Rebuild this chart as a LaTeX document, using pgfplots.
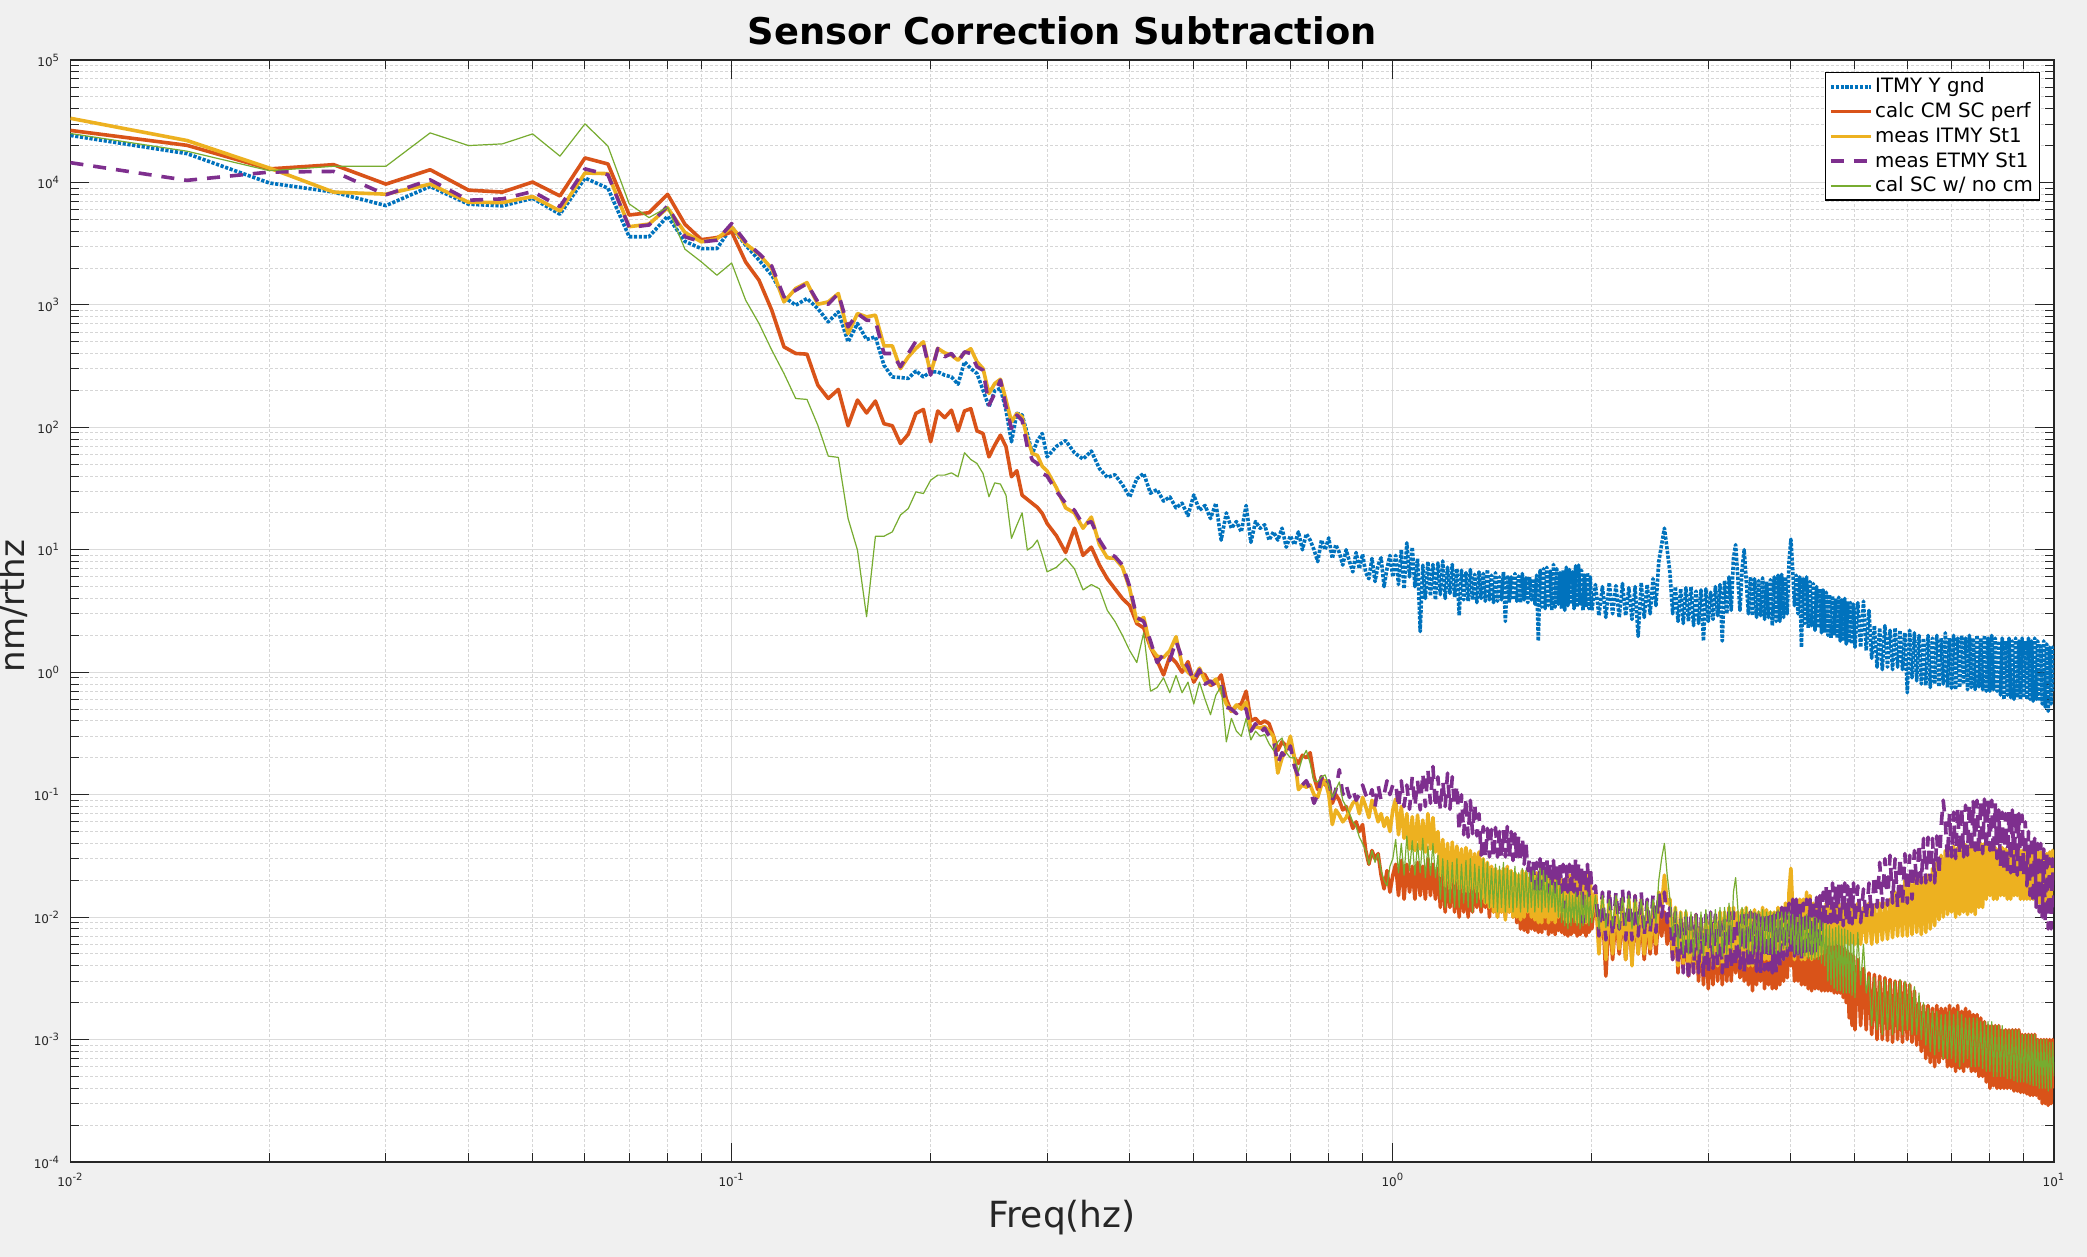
\documentclass[border=0pt]{standalone}
\usepackage{fontspec}
\setmainfont{DejaVu Sans}
\usepackage{pgfplots}
\usepackage{pgfplotstable}
\pgfplotsset{compat=1.18}
\definecolor{mblue}{HTML}{0072BD}
\definecolor{morange}{HTML}{D95319}
\definecolor{myellow}{HTML}{EDB120}
\definecolor{mpurple}{HTML}{7E2F8E}
\definecolor{mgreen}{HTML}{77AC30}
\definecolor{figbg}{HTML}{F0F0F0}
\definecolor{axcol}{HTML}{262626}
\newcommand{\lgf}{\fontsize{9.9}{11}\selectfont}

\pgfplotstableread{
f B O Y P G
0.010 24200 26600 33400 14500 25100
0.015 17200 20100 22000 10400 18000
0.020 9890 12900 13100 12160 12470
0.025 8340 13970 8340 12300 13550
0.030 6470 9690 8020 7930 13550
0.035 9270 12700 9690 10500 25400
0.040 6640 8650 6890 7160 20000
0.045 6430 8340 6850 7340 20650
0.050 7430 10070 7670 8430 24900
0.055 5500 7760 5850 6350 16400
0.060 10860 15850 11940 12900 30100
0.065 8970 14150 11800 11560 19800
0.070 3600 5420 4350 4290 6680
0.075 3600 5660 4570 4490 5160
0.080 5300 8000 6200 6400 6270
0.085 3300 4550 3900 3600 2850
0.090 2880 3410 3270 3270 2244
0.095 2880 3545 3475 3375 1747
0.100 4330 3950 4330 4610 2200
0.105 3070 2240 3160 3270 1092
0.110 2320 1590 2590 2625 705
0.115 1747 904 1980 2070 427
0.120 1162 454 1058 1162 275
0.125 994 401 1360 1318 172
0.130 1127 396 1520 1493 169
0.135 933 221 1012 1058 104
0.140 727 172 1058 1012 58.2
0.145 877 204 1238 1238 56.8
0.150 499 103 583 661 18.0
0.155 705 167 850 850 9.94
0.160 521 131 798 750 2.84
0.165 548 164 824 740 12.9
0.170 321 107 463 401 12.9
0.175 258 103 463 401 14.0
0.180 255 73.8 302 312 19.2
0.185 251 87.9 376 401 21.7
0.190 289 130 441 505 29.7
0.195 258 140 499 483 28.8
0.200 284 76.2 275 267 37.0
0.205 284 136 441 441 40.7
0.210 267 120 406 377 40.7
0.215 258 138 388 401 42.5
0.220 225 93.5 353 343 39.5
0.225 343 136 406 413 62.0
0.230 302 142 438 401 54.6
0.235 275 93.5 343 312 50.7
0.240 201 89.0 302 293 42.0
0.245 147 57.4 189 152 27.1
0.250 199 71.5 228 189 35.2
0.255 208 86.3 247 243 34.4
0.260 138 69.4 167 147 27.9
0.265 76.2 39.5 111 97.7 12.4
0.270 130 44.2 130 126 15.9
0.275 126 27.9 122 114 20.0
0.280 89.0 25.8 81.0 69.3 9.94
0.285 61.0 23.9 61.0 54.0 10.6
0.290 77.6 22.2 59.0 50.7 12.0
0.295 89.0 19.8 48.0 42.0 9.04
0.300 57.4 16.4 44.0 40.0 6.6
0.31 70 13 32 30 7.2
0.32 78 9.5 22 24 8.5
0.33 62 15 20 21 7
0.34 55 9 15 16 4.7
0.35 64 10.5 18.5 17 5.2
0.36 46 7.5 11 12 4.8
0.37 39 5.8 8.6 9.5 3.2
0.38 41 4.8 8.5 8.8 2.6
0.39 34 4.0 7.2 7.5 2.0
0.40 27 3.5 4.8 5 1.5
0.41 38 2.5 2.6 2.8 1.2
0.42 42 2.3 2.8 2.6 2.1
0.43 29 1.6 1.6 1.8 0.7
0.44 31 1.25 1.35 1.2 0.75
0.45 25 0.95 1.32 1.4 0.9
0.46 27 1.35 1.5 1.25 0.68
0.47 22 1.2 1.95 1.8 0.94
0.48 24 1.0 1.15 1.3 0.68
0.49 19 1.22 1.0 1.1 0.83
0.50 28 0.83 0.9 0.85 0.55
0.51 21 1.0 1.08 1.05 0.83
0.52 23 0.95 0.85 0.8 0.6
0.53 18 0.78 0.8 0.85 0.45
0.54 24 0.82 0.88 0.75 0.65
0.55 12 0.95 0.7 0.8 0.77
0.56 20 0.6 0.55 0.52 0.27
0.57 15 0.48 0.48 0.5 0.42
0.58 17 0.53 0.54 0.46 0.33
0.59 14 0.55 0.5 0.52 0.3
0.60 23 0.7 0.57 0.5 0.42
0.61 11.5 0.4 0.34 0.33 0.28
0.62 17 0.42 0.36 0.38 0.33
0.63 15 0.38 0.35 0.32 0.3
0.64 16 0.4 0.36 0.35 0.31
0.65 12 0.38 0.33 0.3 0.26
0.66 14 0.3 0.3 0.28 0.23
0.67 12 0.23 0.15 0.18 0.27
0.68 15 0.27 0.2 0.22 0.29
0.69 10.5 0.25 0.23 0.2 0.22
0.70 13 0.26 0.3 0.25 0.2
0.71 11 0.2 0.2 0.17 0.2
0.72 14 0.18 0.11 0.14 0.155
0.73 10 0.21 0.12 0.12 0.2
0.74 13.5 0.2 0.115 0.13 0.23
0.75 12 0.22 0.12 0.11 0.18
0.76 10 0.14 0.1 0.085 0.13
0.77 8 0.11 0.095 0.1 0.127
0.78 12 0.14 0.12 0.14 0.14
0.79 10 0.12 0.13 0.12 0.145
0.80 12.5 0.127 0.1 0.13 0.12
0.81 8.5 0.085 0.057 0.09 0.095
0.82 11 0.1 0.075 0.11 0.11
0.83 9.5 0.09 0.068 0.16 0.127
0.84 7.5 0.075 0.06 0.1 0.09
0.85 10 0.08 0.065 0.12 0.08
0.86 8 0.065 0.075 0.095 0.07
0.87 6.6 0.053 0.085 0.11 0.06
0.88 9.5 0.06 0.09 0.09 0.055
0.89 7 0.05 0.07 0.1 0.045
0.90 9.2 0.057 0.095 0.12 0.04
0.91 6.5 0.035 0.08 0.1 0.035
0.92 5.8 0.027 0.065 0.09 0.027
0.93 8.5 0.035 0.09 0.11 0.035
0.94 5.5 0.03 0.075 0.08 0.028
0.95 7.5 0.033 0.06 0.12 0.033
0.96 8.6 0.022 0.07 0.09 0.024
0.97 5 0.017 0.055 0.1 0.02
0.98 7 0.024 0.065 0.13 0.018
0.99 9 0.016 0.05 0.1 0.026
1.00 6 0.022 0.075 0.12 0.03
1.01 9.0 0.027 0.092 0.125 0.043
1.02 5.2 0.015 0.047 0.078 0.023
1.03 10 0.029 0.08 0.13 0.04
1.04 4.8 0.014 0.044 0.08 0.022
1.05 11.4 0.027 0.07 0.12 0.046
1.06 6.0 0.016 0.036 0.076 0.024
1.07 10.5 0.026 0.066 0.14 0.042
1.08 5.0 0.014 0.035 0.08 0.022
1.09 8.5 0.028 0.068 0.13 0.04
1.10 2.15 0.015 0.036 0.075 0.023
1.11 7.5 0.026 0.062 0.15 0.044
1.12 4.0 0.014 0.034 0.08 0.021
1.13 8.0 0.03 0.07 0.16 0.038
1.14 4.2 0.015 0.036 0.085 0.022
1.15 7.6 0.027 0.065 0.17 0.04
1.16 3.9 0.014 0.034 0.078 0.021
1.17 7.8 0.025 0.05 0.14 0.032
1.18 4.3 0.012 0.022 0.075 0.014
1.19 8.1 0.024 0.043 0.13 0.03
1.20 4.0 0.011 0.018 0.08 0.012
1.21 7.2 0.023 0.04 0.15 0.029
1.22 4.4 0.012 0.017 0.076 0.013
1.23 7.6 0.022 0.041 0.14 0.028
1.24 4.1 0.011 0.019 0.08 0.012
1.25 7.0 0.024 0.038 0.12 0.03
1.26 2.9 0.01 0.017 0.05 0.012
1.27 6.8 0.023 0.036 0.1 0.027
1.28 3.9 0.011 0.016 0.047 0.013
1.29 6.5 0.021 0.037 0.095 0.029
1.30 3.8 0.01 0.016 0.045 0.012
1.31 6.9 0.022 0.035 0.09 0.03
1.32 3.9 0.011 0.017 0.048 0.011
1.33 6.3 0.024 0.033 0.085 0.027
1.34 3.7 0.012 0.016 0.046 0.013
1.35 6.6 0.022 0.034 0.07 0.026
1.36 4.0 0.011 0.014 0.032 0.012
1.37 6.4 0.02 0.03 0.055 0.03
1.38 3.8 0.012 0.013 0.03 0.013
1.39 6.9 0.021 0.028 0.053 0.028
1.40 3.9 0.01 0.012 0.031 0.012
1.41 6.2 0.022 0.026 0.052 0.025
1.42 3.7 0.011 0.011 0.03 0.012
1.43 6.5 0.02 0.025 0.054 0.027
1.44 3.8 0.01 0.01 0.031 0.011
1.45 6.0 0.019 0.024 0.05 0.026
1.46 3.9 0.011 0.011 0.03 0.012
1.47 6.6 0.021 0.025 0.052 0.028
1.48 2.6 0.01 0.0095 0.031 0.011
1.49 6.2 0.023 0.026 0.055 0.025
1.50 3.7 0.011 0.011 0.03 0.012
1.51 6.0 0.02 0.024 0.05 0.024
1.52 3.9 0.01 0.01 0.029 0.011
1.53 6.4 0.019 0.023 0.048 0.026
1.54 3.8 0.009 0.01 0.03 0.012
1.55 6.1 0.018 0.022 0.046 0.023
1.56 3.7 0.008 0.0095 0.028 0.011
1.57 6.4 0.017 0.024 0.045 0.025
1.58 3.9 0.0078 0.01 0.027 0.012
1.59 5.9 0.017 0.023 0.04 0.024
1.60 3.7 0.0075 0.011 0.024 0.011
1.61 6.0 0.016 0.021 0.03 0.023
1.62 3.9 0.008 0.01 0.018 0.012
1.63 5.8 0.017 0.022 0.029 0.024
1.64 3.6 0.0078 0.0095 0.017 0.011
1.65 6.2 0.016 0.023 0.028 0.022
1.66 1.8 0.0075 0.009 0.016 0.012
1.67 6.8 0.017 0.024 0.03 0.025
1.68 3.4 0.0075 0.009 0.017 0.011
1.69 7.0 0.016 0.025 0.029 0.024
1.70 3.3 0.008 0.01 0.018 0.012
1.71 7.2 0.017 0.022 0.03 0.022
1.72 3.5 0.0072 0.009 0.016 0.011
1.73 6.7 0.018 0.024 0.028 0.02
1.74 3.2 0.0075 0.0095 0.017 0.012
1.75 7.6 0.016 0.023 0.029 0.019
1.76 3.4 0.0072 0.009 0.016 0.011
1.77 7.0 0.015 0.024 0.027 0.02
1.78 3.6 0.0078 0.01 0.017 0.01
1.79 6.5 0.016 0.022 0.028 0.018
1.80 3.3 0.0075 0.011 0.016 0.009
1.81 6.8 0.016 0.02 0.027 0.016
1.82 3.2 0.0072 0.0095 0.012 0.0085
1.83 7.2 0.017 0.021 0.026 0.015
1.84 3.5 0.007 0.009 0.016 0.008
1.85 6.9 0.016 0.022 0.027 0.016
1.86 3.6 0.0072 0.01 0.015 0.0085
1.87 6.6 0.017 0.023 0.026 0.015
1.88 3.3 0.0075 0.01 0.016 0.009
1.89 7.4 0.015 0.022 0.03 0.016
1.90 3.4 0.007 0.009 0.015 0.0085
1.91 7.5 0.016 0.02 0.028 0.015
1.92 3.5 0.0072 0.0095 0.016 0.008
1.93 6.8 0.017 0.021 0.025 0.016
1.94 3.2 0.0075 0.01 0.009 0.0085
1.95 6.2 0.016 0.022 0.026 0.015
1.96 3.4 0.007 0.009 0.016 0.009
1.97 6.5 0.017 0.023 0.027 0.016
1.98 3.3 0.0075 0.01 0.015 0.0085
1.99 6.0 0.016 0.021 0.026 0.015
2.000 3.2 0.008 0.01 0.016 0.009
2.025 5.2 0.016 0.016 0.018 0.015
2.050 2.9 0.007 0.005 0.007 0.008
2.075 5.0 0.012 0.014 0.016 0.015
2.100 2.8 0.0033 0.0045 0.0065 0.0082
2.125 5.4 0.011 0.015 0.017 0.014
2.150 3.0 0.0045 0.005 0.007 0.0085
2.175 5.1 0.0105 0.014 0.016 0.015
2.200 2.8 0.005 0.0055 0.008 0.008
2.225 5.3 0.011 0.013 0.017 0.0145
2.250 2.9 0.0045 0.0045 0.0065 0.0085
2.275 4.9 0.01 0.014 0.016 0.015
2.300 2.7 0.0045 0.004 0.0065 0.008
2.325 5.0 0.0105 0.015 0.015 0.014
2.350 1.96 0.005 0.005 0.007 0.0085
2.375 5.4 0.01 0.014 0.016 0.014
2.400 2.8 0.0045 0.005 0.007 0.008
2.425 5.2 0.0095 0.012 0.014 0.0135
2.450 3.0 0.005 0.0055 0.0075 0.0085
2.475 5.8 0.01 0.013 0.015 0.014
2.500 3.5 0.005 0.006 0.0075 0.009
2.525 8.0 0.011 0.016 0.016 0.02
2.550 11 0.007 0.012 0.01 0.03
2.575 15 0.011 0.022 0.016 0.04
2.600 10 0.006 0.013 0.009 0.022
2.625 6.5 0.01 0.014 0.012 0.014
2.650 3.0 0.0045 0.005 0.0045 0.007
2.675 5.0 0.01 0.012 0.011 0.012
2.700 2.6 0.0035 0.004 0.004 0.0055
2.725 4.8 0.0095 0.011 0.01 0.011
2.750 2.5 0.0038 0.0042 0.0035 0.005
2.775 4.9 0.009 0.011 0.0105 0.0115
2.800 2.6 0.0033 0.0035 0.003 0.005
2.825 5.0 0.0085 0.01 0.011 0.011
2.850 2.4 0.0035 0.004 0.0035 0.0048
2.875 4.6 0.009 0.0105 0.0105 0.0105
2.900 2.5 0.003 0.004 0.0035 0.005
2.925 4.7 0.008 0.009 0.01 0.011
2.950 1.8 0.0028 0.0038 0.0032 0.0048
2.975 4.8 0.0078 0.01 0.0105 0.0115
3.000 2.6 0.0026 0.0045 0.0035 0.0055
3.025 4.5 0.0075 0.0095 0.011 0.011
3.050 2.7 0.0028 0.004 0.0038 0.005
3.075 5.0 0.008 0.01 0.0105 0.0115
3.100 2.9 0.003 0.004 0.004 0.005
3.125 5.2 0.0078 0.011 0.01 0.012
3.150 1.8 0.0028 0.0042 0.0035 0.0048
3.175 5.6 0.008 0.011 0.0095 0.012
3.200 3.0 0.003 0.004 0.0035 0.005
3.225 6.0 0.0085 0.012 0.011 0.013
3.250 3.2 0.003 0.0045 0.0038 0.0055
3.275 8.5 0.0085 0.012 0.011 0.016
3.300 11 0.0035 0.005 0.004 0.021
3.325 6.0 0.008 0.011 0.01 0.012
3.350 3.2 0.0032 0.0045 0.0038 0.0055
3.375 7.0 0.008 0.0115 0.0105 0.012
3.400 10 0.003 0.0045 0.0035 0.0055
3.425 5.5 0.0075 0.012 0.0105 0.012
3.450 3.0 0.0028 0.004 0.0038 0.005
3.475 6.0 0.0078 0.011 0.011 0.0115
3.500 2.9 0.0025 0.004 0.004 0.005
3.525 5.8 0.008 0.0115 0.011 0.011
3.550 2.8 0.0028 0.0042 0.0036 0.0052
3.575 5.6 0.0078 0.011 0.0105 0.0112
3.600 2.9 0.003 0.0042 0.0035 0.0052
3.625 5.9 0.0075 0.012 0.01 0.0115
3.650 2.7 0.0026 0.0045 0.0037 0.005
3.675 5.5 0.008 0.0115 0.011 0.011
3.700 2.8 0.0028 0.0045 0.0037 0.005
3.725 5.7 0.0078 0.011 0.011 0.0112
3.750 2.4 0.0026 0.004 0.0035 0.005
3.775 6.0 0.008 0.011 0.0105 0.011
3.800 2.6 0.0026 0.004 0.0035 0.005
3.825 6.2 0.0078 0.012 0.011 0.0115
3.850 2.6 0.0028 0.0045 0.004 0.0052
3.875 6.3 0.008 0.012 0.012 0.011
3.900 2.8 0.003 0.0045 0.0045 0.0055
3.925 6.0 0.0085 0.013 0.013 0.011
3.950 3.0 0.0032 0.0048 0.0048 0.0055
3.975 8.0 0.0085 0.016 0.013 0.011
4.000 12.2 0.004 0.025 0.005 0.006
4.025 7.0 0.008 0.012 0.014 0.0105
4.050 3.5 0.003 0.0045 0.0048 0.005
4.075 6.2 0.0085 0.013 0.014 0.01
4.100 3.0 0.003 0.005 0.005 0.005
4.125 6.0 0.008 0.014 0.013 0.0105
4.150 1.6 0.0028 0.0045 0.0046 0.0048
4.175 5.8 0.0085 0.014 0.013 0.01
4.200 2.5 0.0028 0.0045 0.0047 0.0048
4.225 6.0 0.008 0.016 0.014 0.0105
4.250 2.3 0.0026 0.0048 0.005 0.0046
4.275 5.5 0.0078 0.015 0.014 0.01
4.300 2.4 0.0025 0.0045 0.005 0.0045
4.325 5.3 0.0075 0.013 0.014 0.01
4.350 2.2 0.0026 0.0047 0.0052 0.0045
4.375 5.0 0.0078 0.013 0.0145 0.0098
4.400 2.3 0.0026 0.0048 0.0055 0.0045
4.425 4.8 0.008 0.012 0.015 0.0095
4.450 2.1 0.0025 0.005 0.006 0.0042
4.475 4.7 0.0075 0.012 0.016 0.009
4.500 2.1 0.0025 0.0055 0.0085 0.004
4.525 4.5 0.0062 0.013 0.018 0.0088
4.550 2.0 0.0025 0.006 0.009 0.003
4.575 4.3 0.006 0.013 0.018 0.0085
4.600 1.9 0.0025 0.006 0.009 0.0028
4.625 4.2 0.0058 0.012 0.019 0.008
4.650 2.0 0.0024 0.006 0.0088 0.0026
4.675 4.0 0.006 0.0125 0.018 0.0082
4.700 1.9 0.0024 0.0062 0.009 0.0025
4.725 4.1 0.0058 0.013 0.019 0.0085
4.750 1.8 0.0024 0.006 0.0085 0.0025
4.775 3.9 0.006 0.012 0.018 0.008
4.800 1.8 0.0022 0.006 0.0085 0.0024
4.825 4.0 0.0055 0.012 0.019 0.008
4.850 1.7 0.002 0.0062 0.009 0.0024
4.875 3.8 0.0052 0.013 0.018 0.0078
4.900 1.8 0.0015 0.006 0.009 0.0024
4.925 3.7 0.005 0.013 0.018 0.0075
4.950 1.7 0.0013 0.0062 0.0088 0.0023
4.975 3.6 0.0048 0.012 0.019 0.0072
5.000 1.6 0.0012 0.006 0.009 0.0022
5.05 3.7 0.0045 0.013 0.018 0.0075
5.10 1.6 0.0013 0.006 0.009 0.0028
5.15 3.8 0.0038 0.012 0.017 0.006
5.20 1.5 0.0012 0.0062 0.0095 0.0024
5.25 3.2 0.0035 0.013 0.019 0.0033
5.30 1.3 0.0011 0.006 0.01 0.0013
5.35 2.4 0.0034 0.0125 0.022 0.0032
5.40 1.1 0.001 0.0062 0.012 0.0012
5.45 2.3 0.0033 0.013 0.028 0.003
5.50 1.05 0.001 0.0065 0.012 0.0011
5.55 2.4 0.0032 0.013 0.03 0.0031
5.60 1.1 0.00098 0.0066 0.0125 0.0012
5.65 2.2 0.0031 0.014 0.032 0.0029
5.70 1.05 0.00095 0.0068 0.013 0.0011
5.75 2.3 0.003 0.016 0.03 0.003
5.80 1.1 0.001 0.007 0.012 0.0012
5.85 2.2 0.003 0.018 0.031 0.0031
5.90 1.05 0.00095 0.007 0.0125 0.0011
5.95 2.1 0.0029 0.02 0.033 0.003
6.00 0.68 0.001 0.007 0.013 0.0012
6.05 2.2 0.0028 0.021 0.032 0.0029
6.10 0.9 0.00095 0.0072 0.014 0.0011
6.15 2.1 0.0025 0.022 0.035 0.0027
6.20 0.85 0.0009 0.0075 0.018 0.0011
6.25 2.0 0.002 0.02 0.04 0.0024
6.30 0.8 0.0008 0.0072 0.019 0.001
6.35 1.9 0.0019 0.021 0.044 0.002
6.40 0.78 0.0007 0.0075 0.019 0.0009
6.45 2.0 0.0019 0.022 0.045 0.0018
6.50 0.75 0.00065 0.008 0.02 0.0008
6.55 1.9 0.0018 0.025 0.044 0.0017
6.60 0.8 0.0006 0.0085 0.019 0.00075
6.65 2.0 0.0019 0.028 0.046 0.0017
6.70 0.76 0.00065 0.0095 0.022 0.0008
6.75 1.9 0.0018 0.032 0.055 0.0016
6.80 0.8 0.0007 0.01 0.09 0.0007
6.85 2.1 0.0018 0.035 0.06 0.0016
6.90 0.75 0.0006 0.0105 0.03 0.0007
6.95 1.9 0.0019 0.036 0.07 0.0017
7.00 0.74 0.0006 0.011 0.031 0.0007
7.05 2.0 0.0018 0.038 0.072 0.0016
7.10 0.72 0.00055 0.01 0.03 0.00065
7.15 1.9 0.0019 0.037 0.078 0.0017
7.20 0.75 0.00058 0.0105 0.032 0.0006
7.25 2.0 0.0017 0.04 0.08 0.0016
7.30 0.8 0.00055 0.011 0.031 0.00065
7.35 1.9 0.0018 0.039 0.082 0.0015
7.40 0.72 0.0006 0.0105 0.032 0.0007
7.45 2.0 0.0017 0.038 0.085 0.0015
7.50 0.75 0.00055 0.011 0.034 0.0006
7.55 1.9 0.0016 0.04 0.088 0.0015
7.60 0.72 0.00055 0.0105 0.035 0.0006
7.65 2.0 0.0016 0.039 0.09 0.0015
7.70 0.76 0.0005 0.012 0.034 0.0006
7.75 1.9 0.0015 0.04 0.09 0.0014
7.80 0.72 0.0005 0.012 0.033 0.00058
7.85 2.0 0.0014 0.04 0.092 0.0014
7.90 0.7 0.00045 0.014 0.035 0.00055
7.95 1.9 0.0013 0.038 0.09 0.0014
8.00 0.7 0.0004 0.015 0.035 0.00055
8.05 2.0 0.0013 0.038 0.09 0.0014
8.10 0.72 0.00042 0.014 0.032 0.0005
8.15 1.9 0.0013 0.037 0.085 0.0013
8.20 0.7 0.0004 0.014 0.03 0.0005
8.25 1.8 0.0013 0.036 0.075 0.0013
8.30 0.65 0.0004 0.015 0.026 0.0005
8.35 1.9 0.0012 0.037 0.072 0.0013
8.40 0.6 0.0004 0.015 0.024 0.0005
8.45 1.8 0.0012 0.036 0.07 0.0012
8.50 0.65 0.0004 0.014 0.023 0.00048
8.55 1.9 0.0012 0.035 0.074 0.0012
8.60 0.62 0.0004 0.014 0.023 0.00048
8.65 1.8 0.0012 0.036 0.075 0.0012
8.70 0.6 0.00038 0.015 0.022 0.00046
8.75 1.9 0.0012 0.035 0.072 0.0012
8.80 0.62 0.00038 0.015 0.022 0.00045
8.85 1.8 0.0012 0.036 0.07 0.0012
8.90 0.6 0.00037 0.014 0.022 0.00045
8.95 1.9 0.0011 0.035 0.068 0.0011
9.00 0.62 0.00037 0.014 0.022 0.00045
9.05 1.8 0.0011 0.035 0.06 0.0011
9.10 0.6 0.00036 0.014 0.018 0.00044
9.15 1.9 0.0011 0.034 0.05 0.0011
9.20 0.6 0.00035 0.014 0.015 0.00043
9.25 1.8 0.0011 0.033 0.046 0.0011
9.30 0.58 0.00035 0.014 0.013 0.00042
9.35 1.9 0.0011 0.033 0.044 0.0011
9.40 0.6 0.00035 0.014 0.012 0.00042
9.45 1.8 0.001 0.034 0.04 0.001
9.50 0.58 0.00033 0.013 0.011 0.0004
9.55 1.7 0.001 0.034 0.04 0.001
9.60 0.55 0.0003 0.013 0.01 0.0004
9.65 1.8 0.001 0.033 0.036 0.001
9.70 0.52 0.0003 0.013 0.009 0.0004
9.75 1.7 0.001 0.033 0.035 0.001
9.80 0.48 0.00029 0.013 0.008 0.00038
9.85 1.6 0.001 0.034 0.03 0.00095
9.90 0.55 0.0003 0.013 0.008 0.0004
9.95 1.6 0.001 0.035 0.03 0.00095
10.0 0.7 0.0004 0.02 0.012 0.0005
}\data

\begin{document}
\begin{tikzpicture}
\fill[figbg] (0,0) rectangle (1043.5pt,628.5pt);
\begin{axis}[
  at={(35.25pt,47.5pt)}, anchor=south west,
  scale only axis, width=991.75pt, height=551pt,
  xmode=log, ymode=log,
  xmin=0.01, xmax=10, ymin=1e-4, ymax=1e5,
  xtick={0.01,0.1,1,10},
  xticklabels={10\textsuperscript{-2},10\textsuperscript{-1},10\textsuperscript{0},10\textsuperscript{1}},
  ytick={1e-4,1e-3,1e-2,1e-1,1,10,100,1000,1e4,1e5},
  yticklabels={10\textsuperscript{-4},10\textsuperscript{-3},10\textsuperscript{-2},10\textsuperscript{-1},10\textsuperscript{0},10\textsuperscript{1},10\textsuperscript{2},10\textsuperscript{3},10\textsuperscript{4},10\textsuperscript{5}},
  minor xtick={0.02,0.03,0.04,0.05,0.06,0.07,0.08,0.09,0.2,0.3,0.4,0.5,0.6,0.7,0.8,0.9,2,3,4,5,6,7,8,9},
  minor ytick={2e-4,3e-4,4e-4,5e-4,6e-4,7e-4,8e-4,9e-4,
    2e-3,3e-3,4e-3,5e-3,6e-3,7e-3,8e-3,9e-3,
    2e-2,3e-2,4e-2,5e-2,6e-2,7e-2,8e-2,9e-2,
    0.2,0.3,0.4,0.5,0.6,0.7,0.8,0.9,
    2,3,4,5,6,7,8,9,
    20,30,40,50,60,70,80,90,
    200,300,400,500,600,700,800,900,
    2000,3000,4000,5000,6000,7000,8000,9000,
    2e4,3e4,4e4,5e4,6e4,7e4,8e4,9e4},
  grid=both,
  major grid style={draw=black!14, line width=0.5pt},
  minor grid style={draw=black!16, line width=0.5pt, dash pattern=on 1.5pt off 1pt},
  tick align=inside,
  major tick length=9.5pt, minor tick length=4.5pt,
  axis line style={draw=axcol, line width=0.6pt},
  tick style={draw=axcol, line width=0.5pt},
  tick label style={font=\fontsize{6}{7}\selectfont, text=axcol},
  xticklabel style={anchor=base, yshift=-12pt},
  yticklabel style={anchor=east, xshift=-1.7pt},
  axis background/.style={fill=white},
  title={Sensor Correction Subtraction},
  title style={at={(axis description cs:0.5,1.0031)}, anchor=base, yshift=0pt, font=\fontsize{18.4}{22}\selectfont\bfseries, text=black},
  xlabel={Freq(hz)},
  xlabel style={at={(axis description cs:0.5,-0.0596)}, anchor=base, font=\fontsize{18}{21}\selectfont, text=axcol},
  ylabel={nm/rthz},
  ylabel style={at={(axis description cs:-0.02294,0.5045)}, anchor=base, font=\fontsize{17}{20}\selectfont, text=axcol},
  legend image code/.code={\draw[#1] (0pt,0pt) -- (20pt,0pt);},
  legend cell align=left,
  legend style={at={(0.993,0.989)}, anchor=north east, draw=black, line width=0.6pt, fill=white,
    font=\lgf, inner xsep=2pt, inner ysep=0.8pt, row sep=0pt,
    nodes={inner xsep=1.25pt, inner ysep=1pt, text height=8.2pt, text depth=2.2pt}},
]
\addplot[mblue, line width=1.8pt, dash pattern=on 1.6pt off 0.8pt, line join=round] table[x=f,y=B]{\data};
\addlegendentry{ITMY Y gnd}
\addplot[morange, line width=1.8pt, line join=round] table[x=f,y=O]{\data};
\addlegendentry{calc CM SC perf}
\addplot[myellow, line width=1.8pt, line join=round] table[x=f,y=Y]{\data};
\addlegendentry{meas ITMY St1}
\addplot[mpurple, line width=1.8pt, dash pattern=on 6.5pt off 5pt, line join=round] table[x=f,y=P]{\data};
\addlegendentry{meas ETMY St1}
\addplot[mgreen, line width=0.6pt, line join=round] table[x=f,y=G]{\data};
\addlegendentry{cal SC w/ no cm}
\end{axis}
\pgfresetboundingbox
\path[use as bounding box] (0,0) rectangle (1043.5pt,628.5pt);
\end{tikzpicture}
\end{document}
